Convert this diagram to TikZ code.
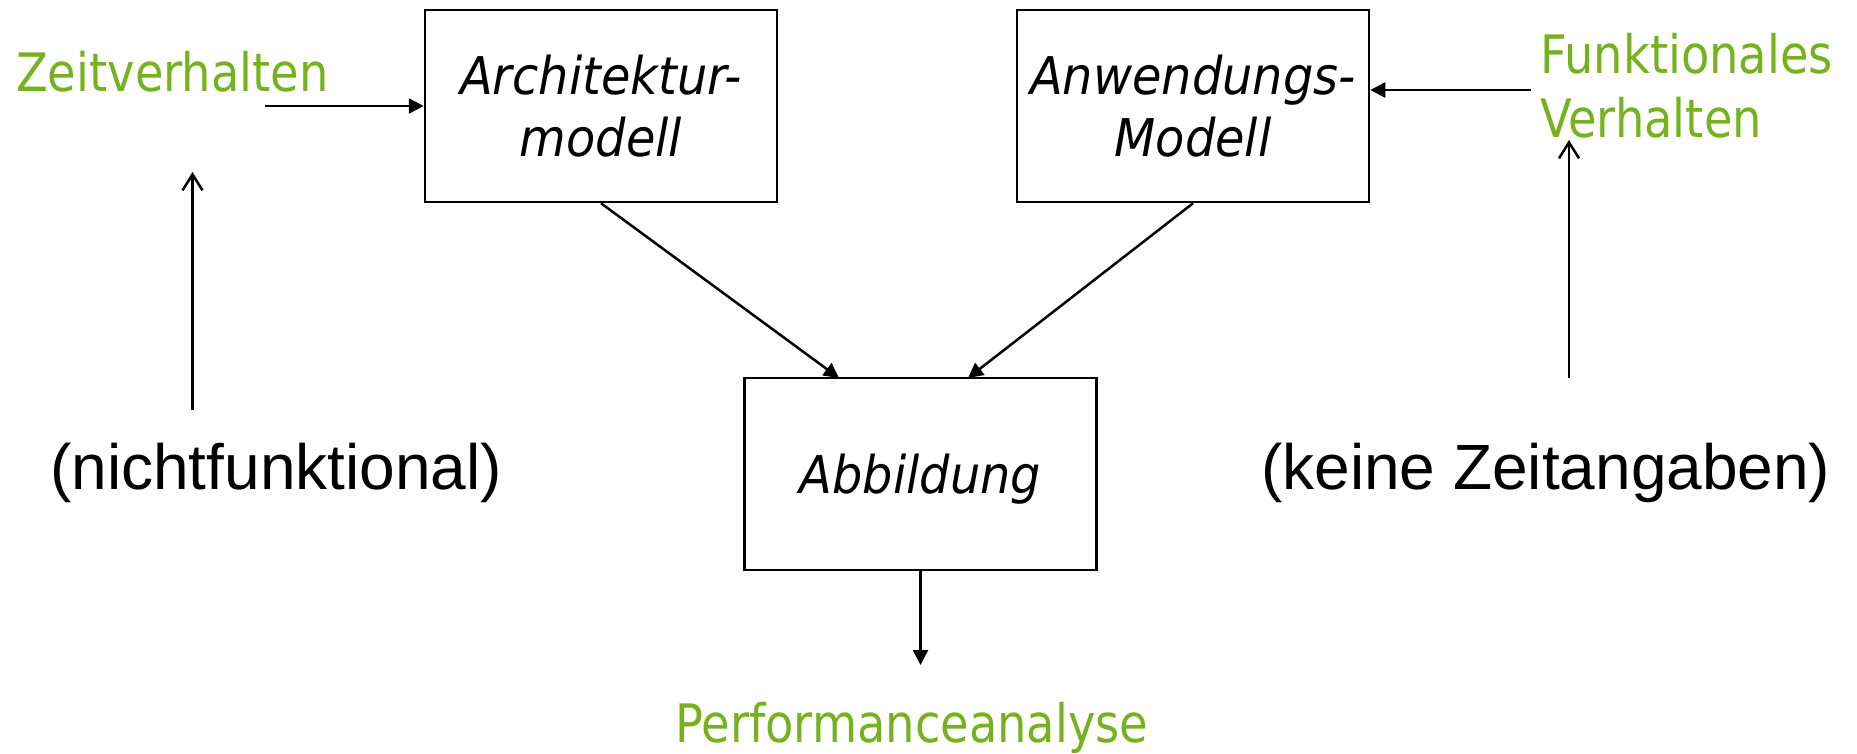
\documentclass[tikz,border=0pt]{standalone}
\usepackage{fontspec}
\usepackage{tikz}
\usetikzlibrary{positioning,arrows.meta}
\setmainfont{Liberation Sans}
\newfontfamily\tahoma[FakeStretch=0.875]{DejaVu Sans}
\newfontfamily\tahomabox[FakeStretch=0.92]{DejaVu Sans}
\definecolor{gruen}{HTML}{76B21E}

\begin{document}
\begin{tikzpicture}[x=1pt,y=-1pt,
        block/.style={draw,line width=2.5pt,minimum width=352pt,minimum height=192pt,inner sep=0pt,align=center,text depth=0pt,font=\tahomabox\itshape\fontsize{52}{62}\selectfont},
        gruentext/.style={anchor=base west,inner sep=0pt,text=gruen,font=\tahoma\fontsize{53}{64}\selectfont},
        schwarz/.style={anchor=base west,inner sep=0pt,font=\fontsize{64}{70}\selectfont},
        pfeil/.style={line width=2.5pt,-{Triangle[length=15pt,width=15pt]}},
        offen/.style={line width=2.5pt,-{Straight Barb[length=16pt,width=20pt]}}]
        \useasboundingbox (0,0) rectangle (1857,753);

        % Modelle
        \node[block] (arch) at (601,106) {Architektur-\\modell};
        \node[block] (anw) at (1193,106) {Anwendungs-\\Modell};
        \node[block] (abb) at (920.5,474) {Abbildung};

        % Eingaben und Ergebnis
        \node[gruentext] (zeit) at (16,91) {Zeitverhalten};
        \node[gruentext] (funk) at (1540,73) {Funktionales};
        \node[gruentext] (verh) at (1540,137) {Verhalten};
        \node[gruentext] (perf) at (675,742) {Performanceanalyse};
        \node[schwarz] (nicht) at (50,489) {(nichtfunktional)};
        \node[schwarz] (keine) at (1261,489) {(keine Zeitangaben)};

        % Pfeilenden
        \coordinate (zeitA) at (265,106);
        \coordinate (funkA) at (1531,90);
        \coordinate (nfOben) at (192.5,172);
        \coordinate (nfUnten) at (192.5,410);
        \coordinate (kzOben) at (1569,140);
        \coordinate (kzUnten) at (1569,378);
        \coordinate (abbL) at (839,378);
        \coordinate (abbR) at (968,378);
        \coordinate (perfA) at (920.5,665);

        \draw[pfeil] (zeitA) -- (arch.west |- zeitA);
        \draw[pfeil] (funkA) -- (anw.east |- funkA);
        \draw[offen] (nfUnten) -- (nfOben);
        \draw[offen] (kzUnten) -- (kzOben);
        \draw[pfeil] (arch.south) -- (abbL);
        \draw[pfeil] (anw.south) -- (abbR);
        \draw[pfeil] (abb.south) -- (perfA);
    \end{tikzpicture}
\end{document}
